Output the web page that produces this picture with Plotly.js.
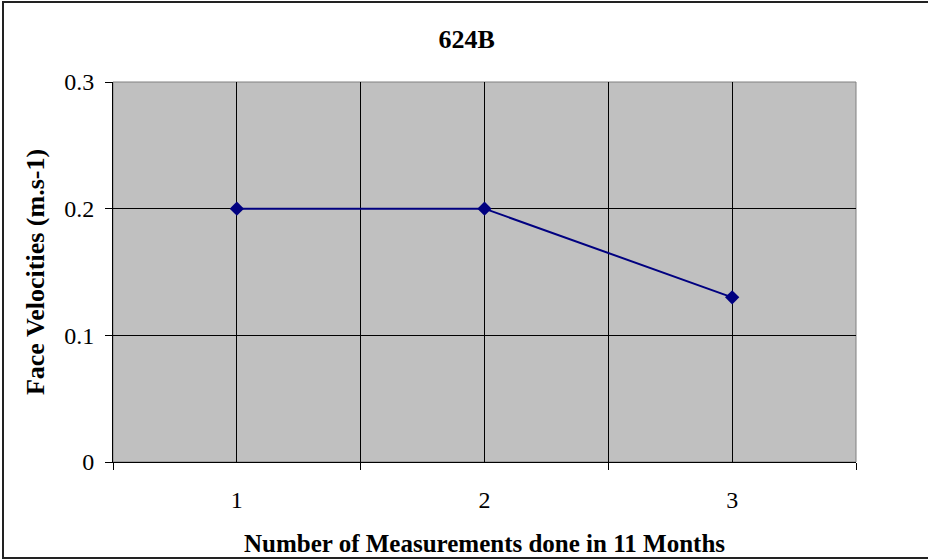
<!DOCTYPE html>
<html>
<head>
<meta charset="utf-8">
<script src="https://cdn.plot.ly/plotly-3.0.1.min.js"></script>
<style>
  html, body { margin: 0; padding: 0; background: #fff; overflow: hidden; }
  #wrap { position: relative; width: 928px; height: 560px; overflow: hidden; }
  #chart { width: 928px; height: 560px; }
  #frame {
    position: absolute; left: 2px; top: 1px; width: 1000px; height: 558px;
    box-sizing: border-box; border: 2px solid #222; pointer-events: none;
  }
</style>
</head>
<body>
<div id="wrap">
  <div id="chart"></div>
  <div id="frame"></div>
</div>
<script>
// Face velocity readings for hood 624B
const measurements = [1, 2, 3];
const velocities = [0.2, 0.2, 0.13];
const yTicks = [0, 0.1, 0.2, 0.3];
const yTickText = ['0', '0.1', '0.2', '0.3'];

const serif = 'Liberation Serif, Times New Roman, serif';

const trace = {
  x: measurements,
  y: velocities,
  type: 'scatter',
  mode: 'lines+markers',
  line: { color: '#000080', width: 2 },
  marker: { symbol: 'diamond', size: 11, color: '#000080' },
  hoverinfo: 'x+y'
};

const layout = {
  width: 928,
  height: 560,
  margin: { l: 113, r: 72, t: 82, b: 98 },
  paper_bgcolor: '#ffffff',
  plot_bgcolor: '#c0c0c0',
  showlegend: false,
  font: { family: serif, color: '#000', size: 24 },
  title: {
    text: '624B',
    font: { family: serif, size: 26, weight: 'bold', color: '#000' },
    x: 0.503, xref: 'container', xanchor: 'center',
    y: 1 - 39 / 560, yref: 'container', yanchor: 'middle'
  },
  xaxis: {
    range: [0.5, 3.5],
    tickvals: measurements,
    ticktext: measurements.map(String),
    ticks: '',
    ticklabelstandoff: 16,
    showgrid: true, gridcolor: '#000', gridwidth: 1,
    minor: {
      tickvals: [0.5, 1.5, 2.5, 3.5],
      ticks: 'outside', ticklen: 7, tickcolor: '#000', tickwidth: 1,
      showgrid: true, gridcolor: '#000', gridwidth: 1
    },
    zeroline: false,
    showline: true, linecolor: '#000', linewidth: 1,
    tickfont: { family: serif, size: 24 },
    title: {
      text: 'Number of Measurements done in 11 Months',
      font: { family: serif, size: 25, weight: 'bold' },
      standoff: 22
    },
    automargin: false,
    fixedrange: true
  },
  yaxis: {
    range: [0, 0.3],
    tickvals: yTicks,
    ticktext: yTickText,
    ticks: 'outside', ticklen: 7, tickcolor: '#000', tickwidth: 1,
    ticklabelstandoff: 6,
    showgrid: true, gridcolor: '#000', gridwidth: 1,
    zeroline: false,
    showline: true, linecolor: '#000', linewidth: 1,
    tickfont: { family: serif, size: 24 },
    title: {
      text: 'Face Velocities (m.s-1)',
      font: { family: serif, size: 26, weight: 'bold' },
      standoff: 12
    },
    automargin: false,
    fixedrange: true
  },
  shapes: [{
    type: 'rect', xref: 'x domain', yref: 'y domain',
    x0: 0, x1: 1, y0: 0, y1: 1,
    line: { color: '#808080', width: 1 },
    layer: 'below'
  }]
};

Plotly.newPlot('chart', [trace], layout, { staticPlot: true, displayModeBar: false });
</script>
</body>
</html>
